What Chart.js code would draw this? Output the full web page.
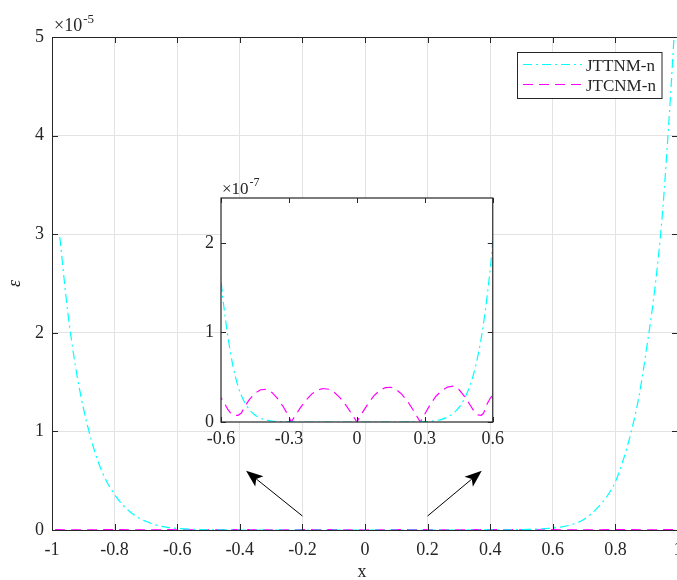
<!DOCTYPE html>
<html>
<head>
<meta charset="utf-8">
<script src="https://cdn.jsdelivr.net/npm/chart.js@4.4.1/dist/chart.umd.min.js"></script>
<style>
  html, body { margin: 0; padding: 0; background: #fff; overflow: hidden; }
  #wrap { position: relative; width: 700px; height: 580px; }
  #mainChart { position: absolute; left: 0; top: 0; }
  #insetChart { position: absolute; left: 180px; top: 170px; }
</style>
</head>
<body>
<div id="wrap">
  <canvas id="mainChart" width="700" height="580"></canvas>
  <canvas id="insetChart" width="330" height="280"></canvas>
</div>
<script>
// JTTNM-n error curve
const ttnmX = [-0.975, -0.95, -0.925, -0.9, -0.875, -0.85, -0.825, -0.8, -0.775, -0.75,
  -0.725, -0.7, -0.675, -0.65, -0.625, -0.6, -0.575, -0.55, -0.525, -0.5,
  -0.475, -0.45, -0.425, -0.4, -0.375, -0.35, -0.3, -0.2, -0.1, 0,
  0.1, 0.2, 0.25, 0.275, 0.3, 0.325, 0.35, 0.375, 0.4, 0.425,
  0.45, 0.475, 0.5, 0.525, 0.55, 0.575, 0.6, 0.625, 0.65, 0.675,
  0.7, 0.725, 0.75, 0.775, 0.8, 0.825, 0.85, 0.875, 0.9, 0.925,
  0.95, 0.975, 0.99];
const ttnmY = [2.97e-5, 2.22e-5, 1.66e-5, 1.24e-5, 0.92e-5, 0.67e-5, 0.49e-5, 0.36e-5, 0.257e-5, 0.183e-5,
  0.126e-5, 0.088e-5, 0.057e-5, 0.036e-5, 0.024e-5, 1.58e-7, 1.05e-7, 0.66e-7, 0.40e-7, 0.24e-7,
  0.14e-7, 0.078e-7, 0.042e-7, 0.022e-7, 0.011e-7, 0.0055e-7, 0.001e-7, 0, 0, 0,
  0, 0.0002e-7, 0.001e-7, 0.002e-7, 0.004e-7, 0.008e-7, 0.016e-7, 0.03e-7, 0.055e-7, 0.095e-7,
  0.16e-7, 0.26e-7, 0.41e-7, 0.63e-7, 0.95e-7, 1.40e-7, 2.02e-7, 3.0e-7, 4.6e-7, 7.0e-7,
  1.1e-6, 1.7e-6, 2.5e-6, 3.5e-6, 4.9e-6, 7.1e-6, 9.9e-6, 1.35e-5, 1.85e-5, 2.42e-5,
  3.2e-5, 4.35e-5, 5.15e-5];

// JTCNM-n error curve
const tcnmX = [-0.99, -0.9, -0.8, -0.7, -0.625, -0.6, -0.585, -0.57, -0.555, -0.54,
  -0.525, -0.51, -0.5, -0.475, -0.45, -0.425, -0.4, -0.375, -0.35, -0.325,
  -0.3, -0.29, -0.275, -0.25, -0.225, -0.2, -0.175, -0.15, -0.125, -0.1,
  -0.075, -0.05, -0.025, 0, 0.025, 0.05, 0.075, 0.1, 0.125, 0.15,
  0.175, 0.2, 0.225, 0.25, 0.28, 0.3, 0.325, 0.35, 0.375, 0.4,
  0.425, 0.45, 0.475, 0.5, 0.52, 0.535, 0.55, 0.56, 0.575, 0.59,
  0.6, 0.7, 0.8, 0.9, 0.99];
const tcnmY = [0.3e-7, 0.2e-7, 0.35e-7, 0.15e-7, 0.33e-7, 0.27e-7, 0.21e-7, 0.14e-7, 0.09e-7, 0.075e-7,
  0.075e-7, 0.10e-7, 0.15e-7, 0.25e-7, 0.32e-7, 0.36e-7, 0.365e-7, 0.33e-7, 0.26e-7, 0.17e-7,
  0.06e-7, 0, 0.06e-7, 0.157e-7, 0.243e-7, 0.311e-7, 0.356e-7, 0.374e-7, 0.366e-7, 0.331e-7,
  0.272e-7, 0.193e-7, 0.10e-7, 0, 0.108e-7, 0.207e-7, 0.291e-7, 0.351e-7, 0.384e-7, 0.388e-7,
  0.36e-7, 0.305e-7, 0.226e-7, 0.129e-7, 0, 0.09e-7, 0.20e-7, 0.29e-7, 0.35e-7, 0.39e-7,
  0.40e-7, 0.365e-7, 0.285e-7, 0.19e-7, 0.11e-7, 0.08e-7, 0.075e-7, 0.10e-7, 0.20e-7, 0.27e-7,
  0.30e-7, 0.2e-7, 0.35e-7, 0.25e-7, 0.3e-7];

const seriesLabels = ['JTTNM-n', 'JTCNM-n'];

// tick labels
const mainXTicks = [-1, -0.8, -0.6, -0.4, -0.2, 0, 0.2, 0.4, 0.6, 0.8, 1];
const mainYTicks = [0, 1e-5, 2e-5, 3e-5, 4e-5, 5e-5];
const insetXTicks = [-0.6, -0.3, 0, 0.3, 0.6];
const insetYTicks = [0, 1e-7, 2e-7];

// arrows pointing to the inset, in data units of the main axes [x, y]
const arrowTails = [[-0.2, 0.142e-5], [0.2, 0.142e-5]];
const arrowTips = [[-0.380, 0.601e-5], [0.373, 0.601e-5]];

const FONT = '"Liberation Serif", "Times New Roman", serif';
const INK = '#262626';

function pts(xs, ys) {
  return xs.map((x, i) => ({ x: x, y: ys[i] }));
}

function makeDatasets() {
  return [
    {
      label: seriesLabels[0],
      data: pts(ttnmX, ttnmY),
      borderColor: '#00ffff',
      borderWidth: 1.2,
      borderDash: [9, 4, 2, 4],
      pointRadius: 0,
      cubicInterpolationMode: 'monotone',
      fill: false
    },
    {
      label: seriesLabels[1],
      data: pts(tcnmX, tcnmY),
      borderColor: '#ff00ff',
      borderWidth: 1.2,
      borderDash: [10, 6],
      pointRadius: 0,
      tension: 0,
      fill: false
    }
  ];
}

function fmt(v) {
  return String(+v.toFixed(2));
}

function drawExponent(ctx, x, y, exp, size) {
  ctx.fillStyle = INK;
  ctx.textAlign = 'left';
  ctx.textBaseline = 'alphabetic';
  ctx.font = size + 'px ' + FONT;
  ctx.fillText('\u00d710', x, y);
  const w = ctx.measureText('\u00d710').width;
  ctx.font = Math.round(size * 0.72) + 'px ' + FONT;
  ctx.fillText(exp, x + w + 1, y - 8);
}

function seg(ctx, x1, y1, x2, y2) {
  ctx.beginPath();
  ctx.moveTo(x1, y1);
  ctx.lineTo(x2, y2);
  ctx.stroke();
}

function drawArrow(ctx, x1, y1, x2, y2) {
  const ang = Math.atan2(y2 - y1, x2 - x1);
  const len = 17, half = 6.5, notch = 4;
  const bx = x2 - len * Math.cos(ang), by = y2 - len * Math.sin(ang);
  ctx.strokeStyle = '#000';
  ctx.lineWidth = 1;
  seg(ctx, x1, y1, bx + notch * Math.cos(ang), by + notch * Math.sin(ang));
  ctx.fillStyle = '#000';
  ctx.beginPath();
  ctx.moveTo(x2, y2);
  ctx.lineTo(bx - half * Math.sin(ang), by + half * Math.cos(ang));
  ctx.lineTo(bx + notch * Math.cos(ang), by + notch * Math.sin(ang));
  ctx.lineTo(bx + half * Math.sin(ang), by - half * Math.cos(ang));
  ctx.closePath();
  ctx.fill();
}

// box, inward ticks, labels, legend and arrows of the main axes
const mainDecor = {
  id: 'mainDecor',
  beforeDraw(chart) {
    const c = chart.ctx;
    c.save();
    c.fillStyle = '#fff';
    c.fillRect(0, 0, chart.width, chart.height);
    c.restore();
  },
  afterDraw(chart) {
    const ctx = chart.ctx, a = chart.chartArea;
    const xs = chart.scales.x, ys = chart.scales.y;
    ctx.save();
    ctx.strokeStyle = INK;
    ctx.lineWidth = 1;
    ctx.beginPath();
    ctx.moveTo(a.left, a.top + 0.5);
    ctx.lineTo(a.right, a.top + 0.5);
    ctx.lineTo(a.right, a.bottom);
    ctx.stroke();
    xs.ticks.forEach(t => {
      const p = Math.round(xs.getPixelForValue(t.value)) + 0.5;
      seg(ctx, p, a.bottom, p, a.bottom - 6);
      seg(ctx, p, a.top, p, a.top + 6);
    });
    ys.ticks.forEach(t => {
      const p = Math.round(ys.getPixelForValue(t.value)) + 0.5;
      seg(ctx, a.left, p, a.left + 6, p);
      seg(ctx, a.right, p, a.right - 6, p);
    });

    // axis labels
    ctx.fillStyle = INK;
    ctx.font = '18px ' + FONT;
    ctx.textAlign = 'center';
    ctx.textBaseline = 'alphabetic';
    ctx.fillText('x', (a.left + a.right) / 2 - 3, 577);
    ctx.save();
    ctx.translate(20, (a.top + a.bottom) / 2);
    ctx.rotate(-Math.PI / 2);
    ctx.font = 'italic 18px ' + FONT;
    ctx.fillText('\u03b5', 0, 0);
    ctx.restore();
    drawExponent(ctx, a.left + 2, a.top - 6, '-5', 18);

    // legend
    const lx = 517.5, ly = 52.5, lw = 144.5, lh = 46;
    ctx.fillStyle = '#fff';
    ctx.fillRect(lx, ly, lw, lh);
    ctx.strokeStyle = INK;
    ctx.lineWidth = 1;
    ctx.strokeRect(lx, ly, lw, lh);
    chart.data.datasets.forEach((ds, i) => {
      const yy = 64.5 + i * 20;
      ctx.strokeStyle = ds.borderColor;
      ctx.lineWidth = ds.borderWidth;
      ctx.setLineDash(ds.borderDash);
      seg(ctx, 523, yy, 582, yy);
      ctx.setLineDash([]);
      ctx.fillStyle = INK;
      ctx.font = '17px ' + FONT;
      ctx.textAlign = 'left';
      ctx.fillText(ds.label, 586, yy + 6.5);
    });

    // arrows
    arrowTails.forEach((tail, i) => {
      const tip = arrowTips[i];
      drawArrow(ctx,
        xs.getPixelForValue(tail[0]), ys.getPixelForValue(tail[1]),
        xs.getPixelForValue(tip[0]), ys.getPixelForValue(tip[1]));
    });
    ctx.restore();
  }
};

// white box and inward ticks of the inset axes
const insetDecor = {
  id: 'insetDecor',
  beforeDatasetsDraw(chart) {
    const c = chart.ctx, a = chart.chartArea;
    c.save();
    c.fillStyle = '#fff';
    c.fillRect(a.left, a.top, a.right - a.left, a.bottom - a.top);
    c.restore();
  },
  afterDraw(chart) {
    const ctx = chart.ctx, a = chart.chartArea;
    const xs = chart.scales.x, ys = chart.scales.y;
    ctx.save();
    ctx.strokeStyle = INK;
    ctx.lineWidth = 1.2;
    ctx.strokeRect(a.left, a.top, a.right - a.left, a.bottom - a.top);
    ctx.lineWidth = 1;
    xs.ticks.forEach(t => {
      const p = Math.round(xs.getPixelForValue(t.value)) + 0.5;
      seg(ctx, p, a.bottom, p, a.bottom - 5);
      seg(ctx, p, a.top, p, a.top + 5);
    });
    ys.ticks.forEach(t => {
      const p = Math.round(ys.getPixelForValue(t.value)) + 0.5;
      seg(ctx, a.left, p, a.left + 5, p);
      seg(ctx, a.right, p, a.right - 5, p);
    });
    drawExponent(ctx, a.left + 1, a.top - 4, '-7', 17);
    ctx.restore();
  }
};

const tickFont = { family: FONT, size: 18 };

new Chart(document.getElementById('mainChart'), {
  type: 'line',
  data: { datasets: makeDatasets() },
  options: {
    responsive: false,
    animation: false,
    layout: { padding: { left: 0, top: 37, right: 22, bottom: 0 } },
    plugins: { legend: { display: false }, tooltip: { enabled: false } },
    scales: {
      x: {
        type: 'linear',
        min: -1,
        max: 1,
        afterBuildTicks: s => { s.ticks = mainXTicks.map(v => ({ value: v })); },
        afterFit: s => { s.height = 50; },
        ticks: { autoSkip: false, maxRotation: 0, padding: 9, font: tickFont, color: INK, callback: v => fmt(v) },
        grid: { color: '#e3e3e3', drawTicks: false },
        border: { color: INK, width: 1 }
      },
      y: {
        type: 'linear',
        min: 0,
        max: 5e-5,
        afterBuildTicks: s => { s.ticks = mainYTicks.map(v => ({ value: v })); },
        afterFit: s => { s.width = 52; },
        ticks: { padding: 8, font: tickFont, color: INK, callback: v => fmt(v / 1e-5) },
        grid: { color: '#e3e3e3', drawTicks: false },
        border: { color: INK, width: 1 }
      }
    }
  },
  plugins: [mainDecor]
});

new Chart(document.getElementById('insetChart'), {
  type: 'line',
  data: { datasets: makeDatasets() },
  options: {
    responsive: false,
    animation: false,
    layout: { padding: { left: 0, top: 28, right: 16, bottom: 0 } },
    plugins: { legend: { display: false }, tooltip: { enabled: false } },
    scales: {
      x: {
        type: 'linear',
        min: -0.6,
        max: 0.6,
        afterBuildTicks: s => { s.ticks = insetXTicks.map(v => ({ value: v })); },
        afterFit: s => { s.height = 28; },
        ticks: { autoSkip: false, maxRotation: 0, padding: 6, font: tickFont, color: INK, callback: v => fmt(v) },
        grid: { display: false, drawTicks: false },
        border: { display: false }
      },
      y: {
        type: 'linear',
        min: 0,
        max: 2.5e-7,
        afterBuildTicks: s => { s.ticks = insetYTicks.map(v => ({ value: v })); },
        afterFit: s => { s.width = 41; },
        ticks: { padding: 7, font: tickFont, color: INK, callback: v => fmt(v / 1e-7) },
        grid: { display: false, drawTicks: false },
        border: { display: false }
      }
    }
  },
  plugins: [insetDecor]
});
</script>
</body>
</html>
